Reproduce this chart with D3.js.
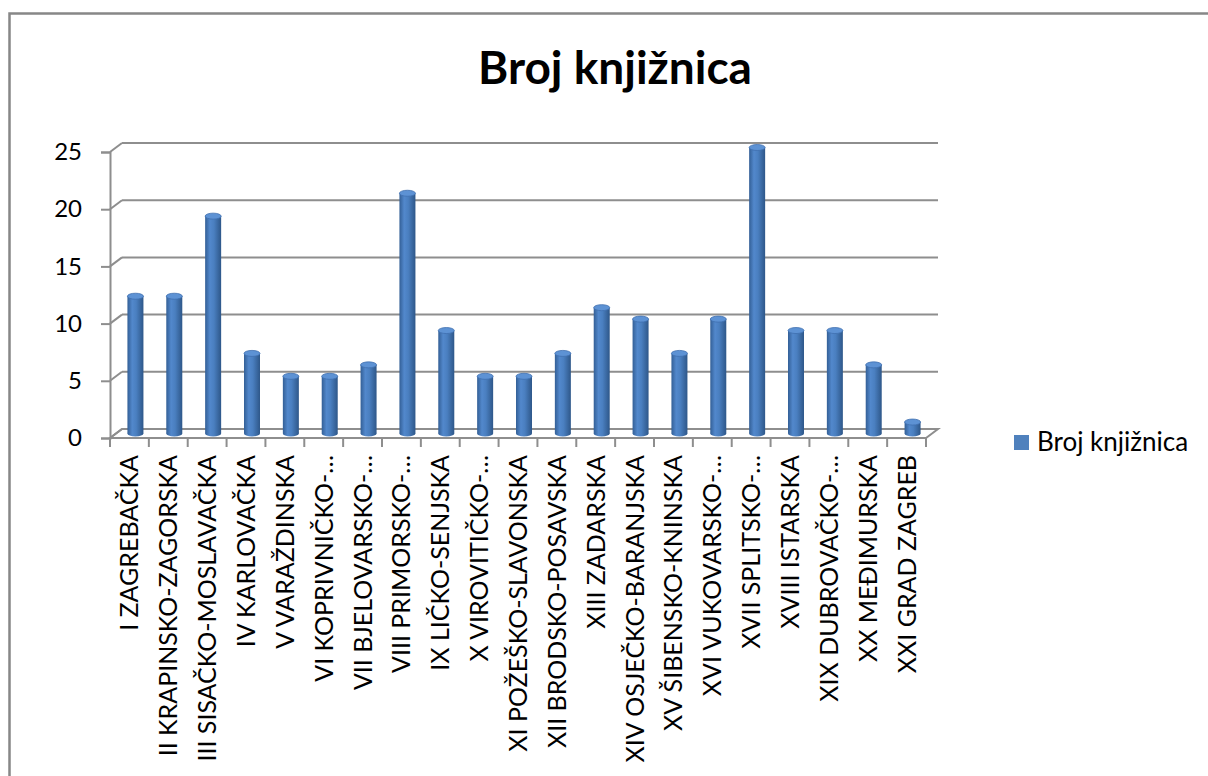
<html>
<head>
    <meta charset="utf-8">
    <title>Broj knjižnica</title>
    <style>
        body { margin: 0; background: #fff; }
        text { font-family: Lato, "Open Sans", sans-serif; fill: #000; }
    </style>
</head>
<body>
<script src="https://d3js.org/d3.v7.min.js" charset="utf-8"></script>
<script>
// podaci
var zupanije = ["I ZAGREBAČKA", "II KRAPINSKO-ZAGORSKA", "III SISAČKO-MOSLAVAČKA", "IV KARLOVAČKA",
    "V VARAŽDINSKA", "VI KOPRIVNIČKO-…", "VII BJELOVARSKO-…", "VIII PRIMORSKO-…", "IX LIČKO-SENJSKA",
    "X VIROVITIČKO-…", "XI POŽEŠKO-SLAVONSKA", "XII BRODSKO-POSAVSKA", "XIII  ZADARSKA",
    "XIV OSJEČKO-BARANJSKA", "XV ŠIBENSKO-KNINSKA", "XVI VUKOVARSKO-…", "XVII SPLITSKO-…",
    "XVIII ISTARSKA", "XIX  DUBROVAČKO-…", "XX MEĐIMURSKA", "XXI GRAD ZAGREB"];
var brojKnjiznica = [12, 12, 19, 7, 5, 5, 6, 21, 9, 5, 5, 7, 11, 10, 7, 10, 25, 9, 9, 6, 1];
var yTicks = [0, 5, 10, 15, 20, 25];
var naslov = "Broj knjižnica";

var W = 1208, H = 776;
var dx = 12, dy = -9;   // pomak dubine (3D)

var svg = d3.select("body").append("svg")
    .attr("width", W)
    .attr("height", H);

// okvir grafikona
svg.append("rect")
    .attr("x", 9.5).attr("y", 13.5)
    .attr("width", 1400).attr("height", 1000)
    .attr("fill", "none")
    .attr("stroke", "#878787")
    .attr("stroke-width", 2.5);

var x = d3.scaleBand().domain(zupanije).range([110, 926]);
var y = d3.scaleLinear().domain([0, 25]).range([438, 152]);

var grid = "#8e8e8e";

// stražnji zid - linije mreže
svg.selectAll("line.grid").data(yTicks).enter().append("line")
    .attr("class", "grid")
    .attr("x1", 110 + dx).attr("x2", 926 + dx)
    .attr("y1", function(d) { return y(d) + dy; })
    .attr("y2", function(d) { return y(d) + dy; })
    .attr("stroke", grid).attr("stroke-width", 2);

// bočni zid - dijagonale
svg.selectAll("line.side").data(yTicks).enter().append("line")
    .attr("class", "side")
    .attr("x1", 110).attr("x2", 110 + dx)
    .attr("y1", function(d) { return y(d); })
    .attr("y2", function(d) { return y(d) + dy; })
    .attr("stroke", grid).attr("stroke-width", 2);

// pod
svg.append("path")
    .attr("d", "M110," + y(0) + "L926," + y(0) + "L" + (926 + dx) + "," + (y(0) + dy) +
        "L" + (110 + dx) + "," + (y(0) + dy) + "Z")
    .attr("fill", "none")
    .attr("stroke", grid).attr("stroke-width", 2);

// y os
var yAxis = svg.append("g")
    .attr("transform", "translate(110,0)")
    .call(d3.axisLeft(y).tickValues(yTicks).tickSize(9).tickPadding(19));
yAxis.select(".domain").attr("stroke", grid).attr("stroke-width", 2);
yAxis.selectAll(".tick line").attr("stroke", grid).attr("stroke-width", 2);
yAxis.selectAll(".tick text")
    .style("font-size", "24px")
    .attr("fill", "#000");

// x os - crtice
var ticksX = zupanije.map(function(d) { return x(d); }).concat([x.range()[1]]);
svg.selectAll("line.xt").data(ticksX).enter().append("line")
    .attr("class", "xt")
    .attr("x1", function(d) { return d; }).attr("x2", function(d) { return d; })
    .attr("y1", y(0)).attr("y2", y(0) + 9)
    .attr("stroke", grid).attr("stroke-width", 2);

// oznake kategorija
svg.selectAll("text.cat").data(zupanije).enter().append("text")
    .attr("class", "cat")
    .attr("transform", function(d) {
        return "translate(" + (x(d) + x.bandwidth() / 2) + ",455) rotate(-90)";
    })
    .attr("dy", "0.36em")
    .attr("text-anchor", "end")
    .style("font-size", "25px")
    .text(function(d) { return d; });

// gradijenti za valjke
var defs = svg.append("defs");
var g1 = defs.append("linearGradient").attr("id", "valjak")
    .attr("x1", "0%").attr("x2", "100%").attr("y1", "0%").attr("y2", "0%");
g1.append("stop").attr("offset", "0%").attr("stop-color", "#335f96");
g1.append("stop").attr("offset", "30%").attr("stop-color", "#5288cc");
g1.append("stop").attr("offset", "55%").attr("stop-color", "#4a7fc0");
g1.append("stop").attr("offset", "100%").attr("stop-color", "#2e5789");

// valjci
var bw = 16, ry = 3;
var bars = svg.selectAll("g.bar").data(brojKnjiznica).enter().append("g")
    .attr("class", "bar")
    .attr("transform", function(d, i) {
        return "translate(" + (x(zupanije[i]) + x.bandwidth() / 2 + dx / 2) + "," + (dy / 2) + ")";
    });
bars.append("ellipse")
    .attr("cx", 0).attr("cy", y(0))
    .attr("rx", bw / 2).attr("ry", ry)
    .attr("fill", "url(#valjak)");
bars.append("rect")
    .attr("x", -bw / 2).attr("width", bw)
    .attr("y", function(d) { return y(d); })
    .attr("height", function(d) { return y(0) - y(d); })
    .attr("fill", "url(#valjak)");
bars.append("ellipse")
    .attr("cx", 0).attr("cy", function(d) { return y(d); })
    .attr("rx", bw / 2).attr("ry", ry)
    .attr("fill", "#5d92d4")
    .attr("stroke", "#3f6fae").attr("stroke-width", 0.8);

// naslov
svg.append("text")
    .attr("x", 615).attr("y", 84)
    .attr("text-anchor", "middle")
    .style("font-size", "46px")
    .style("font-weight", "bold")
    .text(naslov);

// legenda
svg.append("rect")
    .attr("x", 1014).attr("y", 435)
    .attr("width", 15).attr("height", 15)
    .attr("fill", "#4f81bd");
svg.append("text")
    .attr("x", 1037).attr("y", 451)
    .style("font-size", "26px")
    .text(naslov);
</script>
</body>
</html>
